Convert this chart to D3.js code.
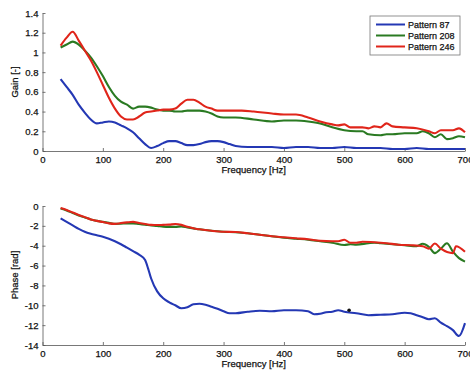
<!DOCTYPE html>
<html>
<head>
<meta charset="utf-8">
<script src="https://cdn.jsdelivr.net/npm/d3@7"></script>
<style>
  body { margin: 0; background: #fff; }
  svg { display: block; font-family: "Liberation Sans", Arial, sans-serif; }
  text { stroke: #111; stroke-width: 0.25px; }
</style>
</head>
<body>
<div id="chart"></div>
<script>
// data: [frequency Hz, value]
var seriesNames = ["Pattern 87", "Pattern 208", "Pattern 246"];
var seriesColors = ["#2438b4", "#2a7a22", "#e0251a"];

var gain87 = [[30,0.73],[40,0.65],[50,0.57],[60,0.47],[70,0.39],[80,0.32],[90,0.28],[100,0.29],[110,0.30],[120,0.29],
  [130,0.26],[140,0.23],[150,0.19],[160,0.13],[170,0.07],[180,0.03],[190,0.05],[200,0.08],[210,0.10],[220,0.10],
  [230,0.08],[240,0.06],[250,0.06],[260,0.07],[270,0.09],[280,0.10],[290,0.10],[300,0.09],[310,0.07],[320,0.05],
  [340,0.04],[360,0.04],[380,0.04],[400,0.03],[420,0.04],[440,0.04],[460,0.03],[480,0.03],[500,0.04],[520,0.03],
  [540,0.03],[560,0.03],[580,0.02],[600,0.02],[620,0.03],[640,0.02],[660,0.02],[680,0.02],[700,0.02]];

var gain208 = [[30,1.05],[40,1.08],[50,1.11],[60,1.08],[70,1.02],[80,0.95],[90,0.86],[100,0.76],[110,0.65],[120,0.56],
  [130,0.50],[140,0.47],[150,0.43],[160,0.45],[170,0.45],[180,0.44],[190,0.42],[200,0.41],[210,0.41],[220,0.40],
  [230,0.40],[240,0.41],[250,0.41],[260,0.41],[270,0.40],[280,0.38],[290,0.35],[300,0.34],[320,0.34],[350,0.32],
  [380,0.30],[400,0.31],[420,0.31],[440,0.30],[460,0.28],[480,0.24],[500,0.21],[520,0.20],[530,0.20],[540,0.17],
  [560,0.16],[570,0.17],[580,0.17],[600,0.18],[620,0.18],[630,0.20],[640,0.18],[650,0.14],[660,0.17],[670,0.12],
  [680,0.13],[690,0.15],[700,0.14]];

var gain246 = [[30,1.07],[40,1.15],[50,1.21],[60,1.12],[70,1.02],[80,0.92],[90,0.80],[100,0.67],[110,0.54],[120,0.43],
  [130,0.35],[140,0.32],[150,0.32],[160,0.35],[170,0.39],[180,0.40],[190,0.41],[200,0.42],[210,0.42],[220,0.43],
  [230,0.48],[240,0.52],[250,0.52],[260,0.49],[270,0.45],[280,0.43],[290,0.41],[300,0.41],[330,0.41],[350,0.40],
  [380,0.38],[400,0.37],[420,0.37],[440,0.34],[460,0.30],[480,0.27],[490,0.26],[500,0.27],[510,0.24],[530,0.24],
  [540,0.23],[550,0.25],[560,0.24],[570,0.28],[580,0.25],[600,0.24],[620,0.23],[640,0.20],[650,0.18],[660,0.21],
  [680,0.21],[690,0.23],[700,0.19]];

var phase87 = [[30,-1.24],[40,-1.6],[50,-1.95],[60,-2.3],[70,-2.6],[80,-2.8],[90,-2.95],[100,-3.1],[110,-3.3],[120,-3.55],
  [130,-3.85],[140,-4.2],[150,-4.55],[160,-4.9],[170,-5.45],[175,-6.3],[180,-7.3],[190,-8.6],[200,-9.3],[210,-9.7],
  [220,-10.0],[230,-10.3],[240,-10.2],[250,-9.9],[260,-9.85],[270,-9.95],[280,-10.15],[290,-10.35],[300,-10.6],[310,-10.8],
  [320,-10.8],[340,-10.65],[360,-10.55],[380,-10.6],[400,-10.5],[420,-10.5],[440,-10.6],[450,-10.9],[460,-10.85],[470,-10.7],
  [480,-10.65],[490,-10.5],[500,-10.65],[520,-10.8],[540,-11.0],[560,-10.95],[580,-10.9],[600,-10.75],[610,-10.8],[620,-11.0],
  [630,-11.2],[640,-11.4],[650,-11.3],[660,-11.75],[670,-12.1],[680,-12.5],[690,-13.1],[700,-11.8]];

var phase208 = [[30,-0.25],[40,-0.45],[50,-0.7],[60,-0.95],[70,-1.15],[80,-1.35],[90,-1.5],[100,-1.6],[110,-1.7],[120,-1.8],
  [130,-1.78],[140,-1.75],[150,-1.75],[160,-1.82],[170,-1.88],[180,-1.95],[190,-2.0],[200,-2.08],[210,-2.1],[220,-2.1],
  [230,-2.05],[240,-2.15],[250,-2.25],[260,-2.35],[280,-2.5],[300,-2.6],[320,-2.65],[340,-2.75],[360,-2.9],[380,-3.05],
  [400,-3.2],[420,-3.3],[440,-3.4],[460,-3.55],[480,-3.7],[500,-3.93],[510,-3.85],[520,-3.9],[540,-3.75],[550,-3.7],
  [560,-3.75],[580,-3.85],[600,-3.95],[620,-4.05],[630,-3.8],[640,-4.1],[650,-4.75],[660,-4.3],[670,-3.75],[680,-4.6],
  [690,-5.25],[700,-5.6]];

var phase246 = [[30,-0.2],[40,-0.4],[50,-0.65],[60,-0.9],[70,-1.12],[80,-1.35],[90,-1.5],[100,-1.62],[110,-1.75],[120,-1.8],
  [130,-1.72],[140,-1.65],[150,-1.6],[160,-1.72],[170,-1.82],[180,-1.9],[190,-1.92],[200,-1.9],[210,-1.88],[220,-1.82],
  [230,-1.9],[240,-2.1],[250,-2.25],[260,-2.35],[280,-2.5],[300,-2.6],[320,-2.62],[340,-2.75],[360,-2.9],[380,-3.05],
  [400,-3.15],[420,-3.25],[440,-3.35],[460,-3.5],[480,-3.55],[490,-3.55],[500,-3.4],[510,-3.7],[520,-3.7],[530,-3.6],
  [550,-3.65],[570,-3.75],[590,-3.9],[610,-3.95],[630,-4.05],[640,-4.3],[650,-3.78],[660,-4.3],[680,-4.75],[685,-4.05],
  [700,-4.6]];

var phaseDot = [[508, -10.5]];

var freqTicks = [0, 100, 200, 300, 400, 500, 600, 700];
var gainTicks = [0, 0.2, 0.4, 0.6, 0.8, 1, 1.2, 1.4];
var phaseTicks = [0, -2, -4, -6, -8, -10, -12, -14];

var W = 470, H = 372;

var svg = d3.select("#chart").append("svg")
  .attr("width", W)
  .attr("height", H);

var x = d3.scaleLinear().domain([0, 700]).range([42.5, 465]);

var panels = [
  {y: d3.scaleLinear().domain([0, 1.4]).range([151, 13]), ticks: gainTicks,
   label: "Gain [-]", series: [gain87, gain208, gain246], labelY: 82},
  {y: d3.scaleLinear().domain([-14, 0]).range([345, 206]), ticks: phaseTicks,
   label: "Phase [rad]", series: [phase87, phase208, phase246], labelY: 275}
];

panels.forEach(function(p, i) {
  var g = svg.append("g");
  var y0 = p.y.range()[0];

  // x axis
  var xa = g.append("g")
    .attr("transform", "translate(0," + y0 + ")")
    .call(d3.axisBottom(x).tickValues(freqTicks).tickSizeInner(-3).tickSizeOuter(0).tickPadding(5)
      .tickFormat(function(d) { return String(d); }));

  // y axis
  var ya = g.append("g")
    .attr("transform", "translate(" + x.range()[0] + ",0)")
    .call(d3.axisLeft(p.y).tickValues(p.ticks).tickSizeInner(-3).tickSizeOuter(0).tickPadding(4)
      .tickFormat(function(d) { return String(d); }));

  [xa, ya].forEach(function(a) {
    a.selectAll("path, line").attr("stroke", "#555").attr("stroke-width", 0.8);
    a.selectAll("text").attr("fill", "#111").style("font-size", "9.5px");
  });

  // lines
  var line = d3.line()
    .x(function(d) { return x(d[0]); })
    .y(function(d) { return p.y(d[1]); })
    .curve(d3.curveMonotoneX);

  g.selectAll(".series")
    .data(p.series)
    .enter()
    .append("path")
      .attr("d", function(d) { return line(d); })
      .attr("fill", "none")
      .attr("stroke", function(d, k) { return seriesColors[k]; })
      .attr("stroke-width", 2.1)
      .attr("stroke-linejoin", "round");

  // axis titles
  g.append("text")
    .attr("x", x(350))
    .attr("y", y0 + 22)
    .attr("text-anchor", "middle")
    .attr("fill", "#111")
    .style("font-size", "9.5px")
    .text("Frequency [Hz]");

  g.append("text")
    .attr("transform", "translate(18," + p.labelY + ") rotate(-90)")
    .attr("text-anchor", "middle")
    .attr("fill", "#111")
    .style("font-size", "9.5px")
    .text(p.label);

  if (i == 1) {
    g.selectAll(".dot")
      .data(phaseDot)
      .enter()
      .append("circle")
        .attr("cx", function(d) { return x(d[0]); })
        .attr("cy", function(d) { return p.y(d[1]); })
        .attr("r", 1.8)
        .attr("fill", "#111");
  }
});

// legend
var legend = svg.append("g").attr("transform", "translate(370,16)");
legend.append("rect")
  .attr("width", 90)
  .attr("height", 39)
  .attr("fill", "#fff")
  .attr("stroke", "#777")
  .attr("stroke-width", 0.8);

seriesNames.forEach(function(name, k) {
  var ly = 8.5 + k * 11;
  legend.append("line")
    .attr("x1", 6).attr("x2", 35)
    .attr("y1", ly).attr("y2", ly)
    .attr("stroke", seriesColors[k])
    .attr("stroke-width", 2);
  legend.append("text")
    .attr("x", 38)
    .attr("y", ly + 3.2)
    .attr("fill", "#111")
    .style("font-size", "9px")
    .text(name);
});
</script>
</body>
</html>
